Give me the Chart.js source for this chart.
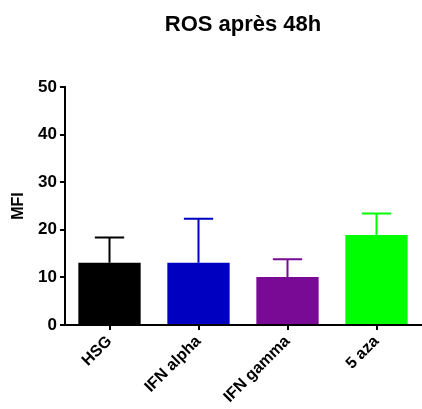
<!DOCTYPE html>
<html>
<head>
<meta charset="utf-8">
<script src="https://cdn.jsdelivr.net/npm/chart.js@4"></script>
<style>
  html, body { margin: 0; padding: 0; background: #fff; }
  #wrap { width: 422px; height: 409px; }
</style>
</head>
<body>
<div id="wrap"><canvas id="myChart"></canvas></div>
<script>
// data
const categories = ['HSG', 'IFN alpha', 'IFN gamma', '5 aza'];
const means = [13.1, 13.1, 10.1, 18.9];
const errors = [5.3, 9.2, 3.7, 4.5];
const barColors = ['#000000', '#0000c0', '#780a96', '#00ff00'];
const chartTitle = 'ROS après 48h';
const yTitle = 'MFI';

const fontName = "'Liberation Sans', Arial, sans-serif";

// upward error bars, drawn from the y scale
const errorBars = {
    id: 'errorBars',
    afterDatasetsDraw(chart) {
        const c = chart.ctx;
        const y = chart.scales.y;
        const meta = chart.getDatasetMeta(0);
        meta.data.forEach((bar, i) => {
            const top = y.getPixelForValue(means[i] + errors[i]);
            const half = bar.width * 0.235;
            c.save();
            c.strokeStyle = barColors[i];
            c.lineWidth = 2;
            c.beginPath();
            c.moveTo(bar.x, bar.y);
            c.lineTo(bar.x, top);
            c.moveTo(bar.x - half, top);
            c.lineTo(bar.x + half, top);
            c.stroke();
            c.restore();
        });
    }
};

// title centred over the plot area
const plotTitle = {
    id: 'plotTitle',
    afterDraw(chart) {
        const c = chart.ctx;
        const area = chart.chartArea;
        c.save();
        c.font = "bold 22px " + fontName;
        c.fillStyle = '#000';
        c.textAlign = 'center';
        c.textBaseline = 'middle';
        c.fillText(chartTitle, (area.left + area.right) / 2, 25);
        c.restore();
    }
};

let ctx = document.getElementById('myChart').getContext('2d');
var chart = new Chart(ctx, {
    type: 'bar',
    data: {
        labels: categories,
        datasets: [{
            data: means,
            backgroundColor: barColors,
            borderWidth: 0,
            barPercentage: 0.7,
            categoryPercentage: 1.0
        }]
    },
    options: {
        responsive: true,
        maintainAspectRatio: false,
        animation: false,
        layout: { padding: { top: 87, right: 1, left: 9, bottom: 0 } },
        plugins: {
            legend: { display: false },
            tooltip: { enabled: false }
        },
        scales: {
            x: {
                afterFit(scale) { scale.height = 84; },
                border: { color: '#000', width: 2 },
                grid: { offset: false, drawOnChartArea: false, color: '#000', lineWidth: 2, tickLength: 5 },
                ticks: {
                    color: '#000',
                    minRotation: 45,
                    maxRotation: 45,
                    padding: 2,
                    font: { family: fontName, size: 16, weight: 'bold' }
                }
            },
            y: {
                min: 0,
                max: 50,
                afterFit(scale) { scale.width = 56; },
                border: { color: '#000', width: 2 },
                grid: { drawOnChartArea: false, color: '#000', lineWidth: 2, tickLength: 5 },
                ticks: {
                    stepSize: 10,
                    color: '#000',
                    padding: 3,
                    font: { family: fontName, size: 17, weight: 'bold' }
                },
                title: {
                    display: true,
                    text: yTitle,
                    color: '#000',
                    padding: { top: 0, bottom: 4 },
                    font: { family: fontName, size: 16, weight: 'bold' }
                }
            }
        }
    },
    plugins: [errorBars, plotTitle]
});
</script>
</body>
</html>
